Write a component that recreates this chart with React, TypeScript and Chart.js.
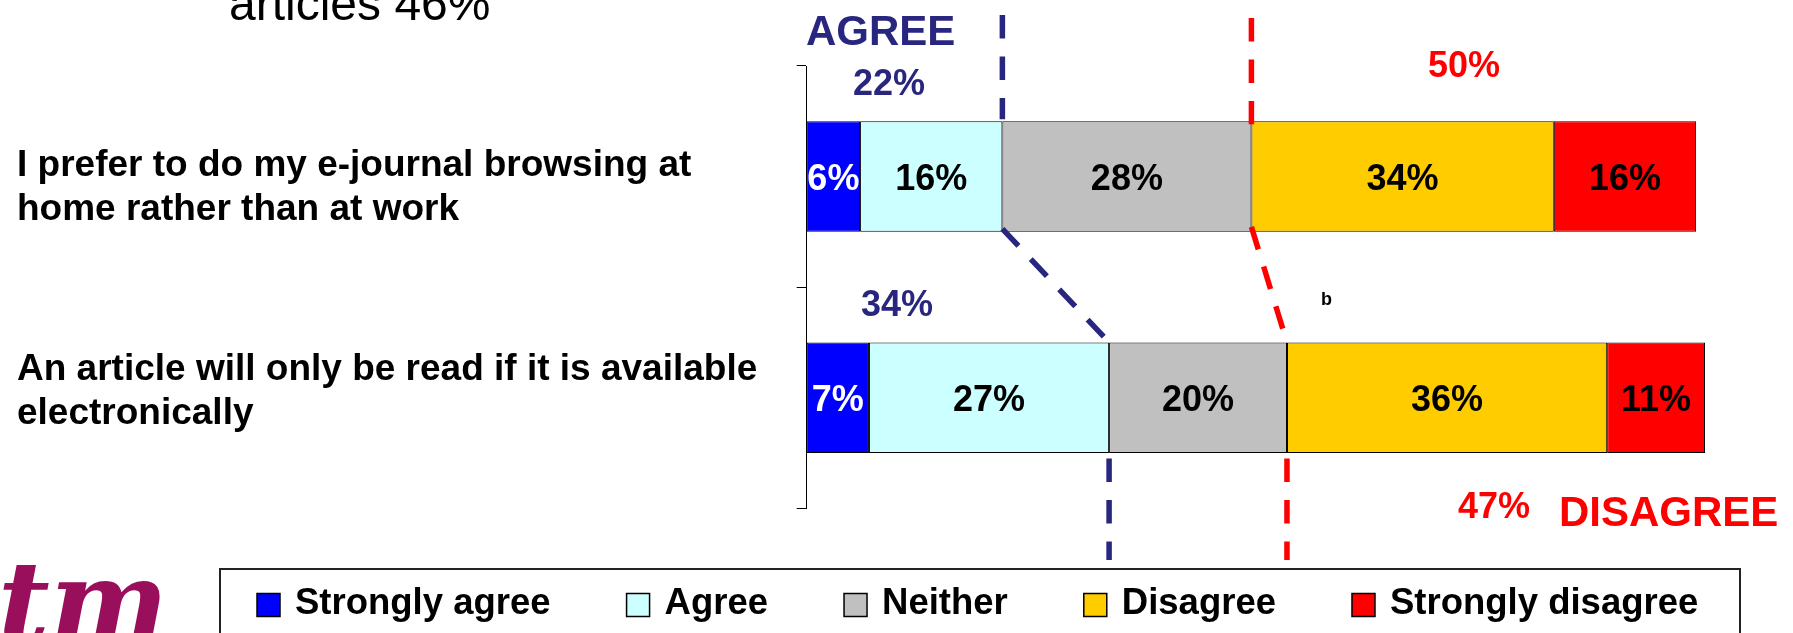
import React, { useEffect, useRef } from "react";
import Chart from "chart.js/auto";

// ---- data ----
const categories: string[][] = [
  ["I prefer to do my e-journal browsing at", "home rather than at work"],
  ["An article will only be read if it is available", "electronically"],
];
const seriesNames = ["Strongly agree", "Agree", "Neither", "Disagree", "Strongly disagree"];
const stronglyAgree = [6, 7];
const agree = [16, 27];
const neither = [28, 20];
const disagree = [34, 36];
const stronglyDisagree = [16, 11];
const seriesColors = ["#0000FF", "#CCFFFF", "#C0C0C0", "#FFCC00", "#FF0000"];
const labelColors = ["#FFFFFF", "#000000", "#000000", "#000000", "#000000"];
const headline = "articles 46%";
const agreeWord = "AGREE";
const disagreeWord = "DISAGREE";
const stray = "b";
const logoText = "tm";

const FONT = '"Liberation Sans", Arial, Helvetica, sans-serif';
const NAVY = "#29267F";
const RED = "#FF0000";

const overlay = {
  id: "overlay",
  afterDraw(chart: any) {
    const ctx = chart.ctx as CanvasRenderingContext2D;
    const xs = chart.scales.x;
    const ys = chart.scales.y;
    ctx.save();

    // bar value labels
    chart.data.datasets.forEach((ds: any, di: number) => {
      const meta = chart.getDatasetMeta(di);
      meta.data.forEach((el: any, i: number) => {
        const p = el.getProps(["x", "y", "base", "height"], true);
        const cx = (p.x + p.base) / 2;
        ctx.font = `bold 36px ${FONT}`;
        ctx.fillStyle = labelColors[di];
        ctx.textAlign = "center";
        ctx.textBaseline = "alphabetic";
        ctx.fillText(`${ds.data[i]}%`, cx, p.y + 13);
      });
    });

    // category labels (left aligned)
    const lineOffsets = [-1, -18];
    ctx.font = `bold 37px ${FONT}`;
    ctx.fillStyle = "#000";
    ctx.textAlign = "left";
    categories.forEach((lines, i) => {
      const base = ys.getPixelForValue(i) + lineOffsets[i];
      lines.forEach((ln, k) => ctx.fillText(ln, 17, base + k * 44));
    });

    // headline (cut off at top)
    ctx.font = `48px ${FONT}`;
    ctx.fillText(headline, 229, 20);

    // dashed guide lines
    const meta0 = chart.getDatasetMeta(0);
    const bars = categories.map((_, i) => {
      const p = meta0.data[i].getProps(["y", "height"], true);
      return { top: p.y - p.height / 2, bottom: p.y + p.height / 2 };
    });
    const agreeEnd = categories.map((_, i) => xs.getPixelForValue(stronglyAgree[i] + agree[i]));
    const neutralEnd = categories.map((_, i) =>
      xs.getPixelForValue(stronglyAgree[i] + agree[i] + neither[i])
    );
    const seg = (color: string, x1: number, y1: number, x2: number, y2: number) => {
      ctx.beginPath();
      ctx.strokeStyle = color;
      ctx.lineWidth = 5.5;
      ctx.setLineDash([23.5, 18]);
      ctx.lineDashOffset = 0;
      ctx.moveTo(x1, y1);
      ctx.lineTo(x2, y2);
      ctx.stroke();
    };
    seg(NAVY, agreeEnd[0], 15, agreeEnd[0], bars[0].top - 2);
    seg(NAVY, agreeEnd[0], bars[0].bottom - 3, agreeEnd[1], bars[1].top);
    seg(NAVY, agreeEnd[1], bars[1].bottom + 5.5, agreeEnd[1], 560);
    seg(RED, neutralEnd[0], 18, neutralEnd[0], bars[0].top + 3);
    seg(RED, neutralEnd[0], bars[0].bottom - 5, neutralEnd[1], bars[1].top);
    seg(RED, neutralEnd[1], bars[1].bottom + 5.5, neutralEnd[1], 560);
    ctx.setLineDash([]);

    // annotation texts
    ctx.textAlign = "left";
    ctx.fillStyle = NAVY;
    ctx.font = `bold 42px ${FONT}`;
    ctx.fillText(agreeWord, 806, 45);
    ctx.font = `bold 36px ${FONT}`;
    ctx.fillText(`${stronglyAgree[0] + agree[0]}%`, 853, 95);
    ctx.fillText(`${stronglyAgree[1] + agree[1]}%`, 861, 316);
    ctx.fillStyle = RED;
    ctx.fillText(`${disagree[0] + stronglyDisagree[0]}%`, 1428, 77);
    ctx.fillText(`${disagree[1] + stronglyDisagree[1]}%`, 1458, 518);
    ctx.font = `bold 42px ${FONT}`;
    ctx.fillText(disagreeWord, 1559, 526);
    ctx.fillStyle = "#000";
    ctx.font = `bold 18px ${FONT}`;
    ctx.fillText(stray, 1321, 305);

    // legend
    ctx.lineWidth = 2;
    ctx.strokeStyle = "#222";
    ctx.strokeRect(220, 569, 1520, 100);
    ctx.font = `bold 36.5px ${FONT}`;
    let lx = 257;
    chart.data.datasets.forEach((ds: any) => {
      ctx.fillStyle = ds.backgroundColor;
      ctx.fillRect(lx, 593.5, 23, 23);
      ctx.lineWidth = 1.5;
      ctx.strokeStyle = "#000";
      ctx.strokeRect(lx, 593.5, 23, 23);
      ctx.fillStyle = "#000";
      ctx.fillText(ds.label, lx + 38, 614);
      lx += 38 + ctx.measureText(ds.label).width + 76;
    });

    // logo
    ctx.fillStyle = "#990F5C";
    ctx.font = `bold italic 112px "DejaVu Serif", "Liberation Serif", serif`;
    ctx.fillText(logoText, -2, 641);

    ctx.restore();
  },
};

export default function App() {
  const ref = useRef<HTMLCanvasElement | null>(null);
  useEffect(() => {
    if (!ref.current) return;
    const series = [stronglyAgree, agree, neither, disagree, stronglyDisagree];
    const chart = new Chart(ref.current, {
      type: "bar",
      data: {
        labels: categories.map((c) => c.join(" ")),
        datasets: series.map((d, i) => ({
          label: seriesNames[i],
          data: d,
          backgroundColor: seriesColors[i],
          borderColor: "#000",
          borderWidth: 1,
          borderSkipped: false,
          categoryPercentage: 0.5,
          barPercentage: 1,
        })),
      },
      options: {
        indexAxis: "y",
        animation: false,
        responsive: false,
        events: [],
        layout: { padding: { left: 786.7, top: 66, right: 88, bottom: 124.7 } },
        plugins: { legend: { display: false }, tooltip: { enabled: false } },
        scales: {
          x: { display: false, stacked: true, min: 0, max: 101 },
          y: {
            stacked: true,
            ticks: { display: false },
            grid: {
              offset: true,
              drawOnChartArea: false,
              drawTicks: true,
              tickLength: 10,
              color: "#000",
              tickColor: "#000",
            },
            border: { display: true, color: "#000", width: 1 },
            afterFit: (s: any) => {
              s.width = 20;
            },
          },
        },
      },
      plugins: [overlay],
    });
    return () => chart.destroy();
  }, []);
  return (
    <div style={{ position: "absolute", left: 0, top: 0, width: 1793, height: 633, background: "#fff" }}>
      <canvas ref={ref} width={1793} height={633} style={{ display: "block" }} />
    </div>
  );
}
